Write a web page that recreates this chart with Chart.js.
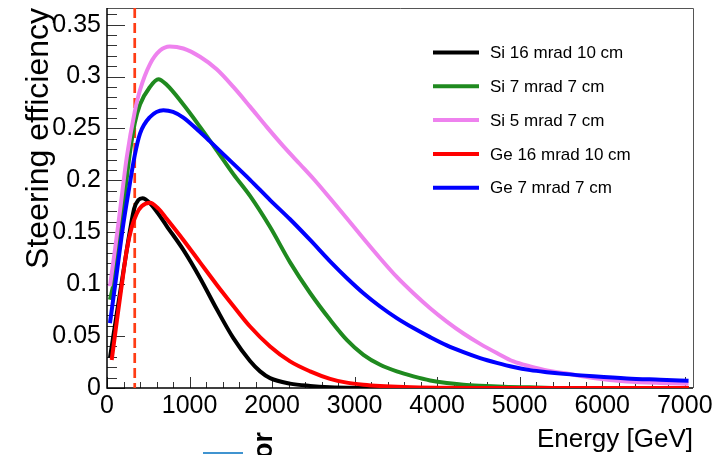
<!DOCTYPE html>
<html lang="en">
<head>
<meta charset="UTF-8">
<title>Steering efficiency vs energy</title>
<script src="https://cdn.jsdelivr.net/npm/chart.js@4.4.8/dist/chart.umd.min.js"></script>
<style>
    body { margin: 0; background: #fff; }
</style>
</head>
<body>
<canvas id="effChart" width="720" height="455"></canvas>

<script>
    const names = ['Si 16 mrad 10 cm', 'Si 7 mrad 7 cm', 'Si 5 mrad 7 cm', 'Ge 16 mrad 10 cm', 'Ge 7 mrad 7 cm'];
    const colors = ['#000000', '#1f8a1f', '#ee82ee', '#ff0000', '#0000ff'];

    // energy [GeV] / efficiency
    const si16E = [36, 117, 198, 279, 330, 380, 430, 521, 620, 723, 925, 1127, 1329, 1531, 1733, 1855, 1976, 2218, 2461, 2700, 3000, 3500, 7050];
    const si16V = [0.029, 0.071, 0.112, 0.152, 0.173, 0.181, 0.1827, 0.178, 0.168, 0.156, 0.133, 0.106, 0.076, 0.048, 0.026, 0.016, 0.0095, 0.0042, 0.002, 0.0008, 0.0002, 0, 0];

    const si7E = [36, 77, 150, 218, 280, 336, 400, 521, 622, 723, 925, 1127, 1329, 1531, 1733, 1976, 2218, 2461, 2703, 2905, 3107, 3309, 3511, 3713, 3915, 4117, 4319, 4521, 4800, 5200, 5600, 7050];
    const si7V = [0.085, 0.100, 0.145, 0.188, 0.228, 0.255, 0.273, 0.290, 0.2974, 0.292, 0.273, 0.2515, 0.229, 0.206, 0.185, 0.155, 0.121, 0.0915, 0.0657, 0.0464, 0.032, 0.0224, 0.016, 0.0112, 0.0073, 0.0048, 0.0032, 0.0022, 0.0012, 0.0005, 0, 0];

    const si5E = [36, 100, 158, 239, 336, 400, 521, 642, 760, 925, 1127, 1329, 1531, 1733, 1935, 2136, 2339, 2501, 2703, 2905, 3107, 3309, 3511, 3713, 3915, 4117, 4319, 4521, 4723, 4925, 5127, 5329, 5531, 5894, 6299, 6703, 7046];
    const si5V = [0.098, 0.135, 0.171, 0.222, 0.266, 0.287, 0.312, 0.325, 0.329, 0.327, 0.319, 0.307, 0.290, 0.271, 0.2515, 0.233, 0.2155, 0.2015, 0.1827, 0.1635, 0.144, 0.125, 0.107, 0.0913, 0.0769, 0.064, 0.0525, 0.0425, 0.0337, 0.0256, 0.0208, 0.0169, 0.0144, 0.0096, 0.0063, 0.0048, 0.0041];

    const ge16E = [57, 120, 180, 240, 300, 360, 420, 521, 620, 723, 925, 1127, 1329, 1531, 1733, 1976, 2218, 2461, 2703, 2905, 3107, 3309, 3600, 4000, 4500, 7050];
    const ge16V = [0.027, 0.065, 0.100, 0.133, 0.155, 0.168, 0.175, 0.1785, 0.173, 0.163, 0.1426, 0.121, 0.0995, 0.079, 0.0592, 0.040, 0.0256, 0.016, 0.0088, 0.0052, 0.0032, 0.002, 0.001, 0.0003, 0, 0];

    const ge7E = [36, 117, 198, 267, 336, 400, 521, 683, 800, 925, 1127, 1248, 1491, 1733, 1976, 2218, 2461, 2703, 2905, 3107, 3309, 3511, 3713, 3915, 4117, 4319, 4521, 4723, 4925, 5127, 5329, 5531, 5894, 6299, 6703, 7046];
    const ge7V = [0.0625, 0.110, 0.158, 0.192, 0.224, 0.245, 0.261, 0.2676, 0.266, 0.2605, 0.2465, 0.2375, 0.219, 0.2005, 0.181, 0.1625, 0.1426, 0.122, 0.106, 0.0913, 0.0785, 0.0673, 0.0577, 0.049, 0.041, 0.0345, 0.0288, 0.0242, 0.0202, 0.0172, 0.0152, 0.0136, 0.0113, 0.0092, 0.008, 0.007];

    const energies = [si16E, si7E, si5E, ge16E, ge7E];
    const values = [si16V, si7V, si5V, ge16V, ge7V];

    const xTickValues = [0, 1000, 2000, 3000, 4000, 5000, 6000, 7000];
    const yTickValues = [0, 0.05, 0.1, 0.15, 0.2, 0.25, 0.3, 0.35];
    const cutEnergy = 336;   // dashed vertical line
    const xMax = 7100;
    const yMax = 0.366;

    Chart.defaults.font.family = "'Liberation Sans', Arial, sans-serif";
    Chart.defaults.color = '#000';

    const drawOrder = [5, 4, 3, 2, 1]; // blue ends up on top

    const datasets = names.map((name, i) => ({
        label: name,
        data: energies[i].map((e, j) => ({x: e, y: values[i][j]})),
        borderColor: colors[i],
        borderWidth: 4,
        pointRadius: 0,
        fill: false,
        cubicInterpolationMode: 'monotone',
        order: drawOrder[i]
    }));

    const rootStyle = {
        id: 'rootStyle',
        beforeDatasetsDraw(chart) {
            const ctx = chart.ctx;
            const a = chart.chartArea;
            const xs = chart.scales.x;
            const ys = chart.scales.y;
            ctx.save();

            // frame
            ctx.strokeStyle = '#555';
            ctx.lineWidth = 1;
            ctx.beginPath();
            ctx.moveTo(a.left, a.top + 0.5);
            ctx.lineTo(a.right + 0.5, a.top + 0.5);
            ctx.lineTo(a.right + 0.5, a.bottom);
            ctx.stroke();

            // ticks inside the frame
            ctx.strokeStyle = '#333';
            ctx.beginPath();
            for (let k = 0; k <= 36; k++) {
                const y = Math.round(ys.getPixelForValue(k / 100)) + 0.5;
                const len = k % 5 === 0 ? 18 : 10;
                ctx.moveTo(a.left, y);
                ctx.lineTo(a.left + len, y);
            }
            for (let e = 0; e <= 7000; e += 200) {
                const x = Math.round(xs.getPixelForValue(e)) + 0.5;
                const len = e % 1000 === 0 ? 11 : 6;
                ctx.moveTo(x, a.bottom);
                ctx.lineTo(x, a.bottom - len);
            }
            ctx.stroke();

            // axes
            ctx.strokeStyle = '#000';
            ctx.lineWidth = 1.5;
            ctx.beginPath();
            ctx.moveTo(a.left, a.top);
            ctx.lineTo(a.left, a.bottom);
            ctx.lineTo(a.right, a.bottom);
            ctx.stroke();

            // dashed cut line
            const xc = xs.getPixelForValue(cutEnergy);
            ctx.strokeStyle = '#ff3c14';
            ctx.lineWidth = 2.7;
            ctx.setLineDash([10, 5]);
            ctx.beginPath();
            ctx.moveTo(xc, a.top);
            ctx.lineTo(xc, a.bottom);
            ctx.stroke();
            ctx.restore();
        },
        afterDraw(chart) {
            const ctx = chart.ctx;
            const a = chart.chartArea;
            ctx.save();

            // legend, no box
            ctx.font = "17px 'Liberation Sans', Arial, sans-serif";
            ctx.textBaseline = 'middle';
            ctx.textAlign = 'left';
            names.forEach((name, i) => {
                const y = 52.5 + i * 33.8;
                ctx.strokeStyle = colors[i];
                ctx.lineWidth = 4;
                ctx.beginPath();
                ctx.moveTo(433, y);
                ctx.lineTo(479, y);
                ctx.stroke();
                ctx.fillStyle = '#000';
                ctx.fillText(name, 490, y + 1);
            });

            // axis titles
            ctx.fillStyle = '#000';
            ctx.font = "26px 'Liberation Sans', Arial, sans-serif";
            ctx.textAlign = 'right';
            ctx.textBaseline = 'alphabetic';
            ctx.fillText('Energy [GeV]', a.right, 447);

            ctx.save();
            ctx.translate(48, a.top);
            ctx.rotate(-Math.PI / 2);
            ctx.font = "32px 'Liberation Sans', Arial, sans-serif";
            ctx.textAlign = 'right';
            ctx.fillText('Steering efficiency', 0, 0);
            ctx.restore();

            // bits of the next figure showing under the plot
            ctx.strokeStyle = '#0070c0';
            ctx.lineWidth = 1.5;
            ctx.beginPath();
            ctx.moveTo(203, 453);
            ctx.lineTo(243, 453);
            ctx.stroke();
            ctx.save();
            ctx.translate(272, 459);
            ctx.rotate(-Math.PI / 2);
            ctx.font = "bold 27px 'Liberation Sans', Arial, sans-serif";
            ctx.textAlign = 'left';
            ctx.fillText('or', 0, 0);
            ctx.restore();

            ctx.restore();
        }
    };

    const context = document.getElementById('effChart').getContext('2d');
    const chart = new Chart(context, {
        type: 'line',
        data: { datasets: datasets },
        options: {
            responsive: false,
            animation: false,
            devicePixelRatio: 1,
            layout: { padding: { top: 8, right: 27, left: 0, bottom: 0 } },
            plugins: {
                legend: { display: false },
                tooltip: { enabled: false }
            },
            scales: {
                x: {
                    type: 'linear',
                    min: 0,
                    max: xMax,
                    grid: { display: false, drawTicks: false },
                    border: { display: false },
                    ticks: {
                        maxRotation: 0,
                        autoSkip: false,
                        padding: 3,
                        font: { size: 25 },
                        callback: (v) => String(v)
                    },
                    afterBuildTicks: (s) => { s.ticks = xTickValues.map((v) => ({value: v})); },
                    afterFit: (s) => { s.height = 67; s.paddingLeft = 0; s.paddingRight = 0; }
                },
                y: {
                    type: 'linear',
                    min: 0,
                    max: yMax,
                    grid: { display: false, drawTicks: false },
                    border: { display: false },
                    ticks: {
                        padding: 6,
                        font: { size: 25 },
                        callback: (v) => String(Number(v.toFixed(2)))
                    },
                    afterBuildTicks: (s) => { s.ticks = yTickValues.map((v) => ({value: v})); },
                    afterFit: (s) => { s.width = 107; s.paddingTop = 0; s.paddingBottom = 0; }
                }
            }
        },
        plugins: [rootStyle]
    });
</script>
</body>
</html>
